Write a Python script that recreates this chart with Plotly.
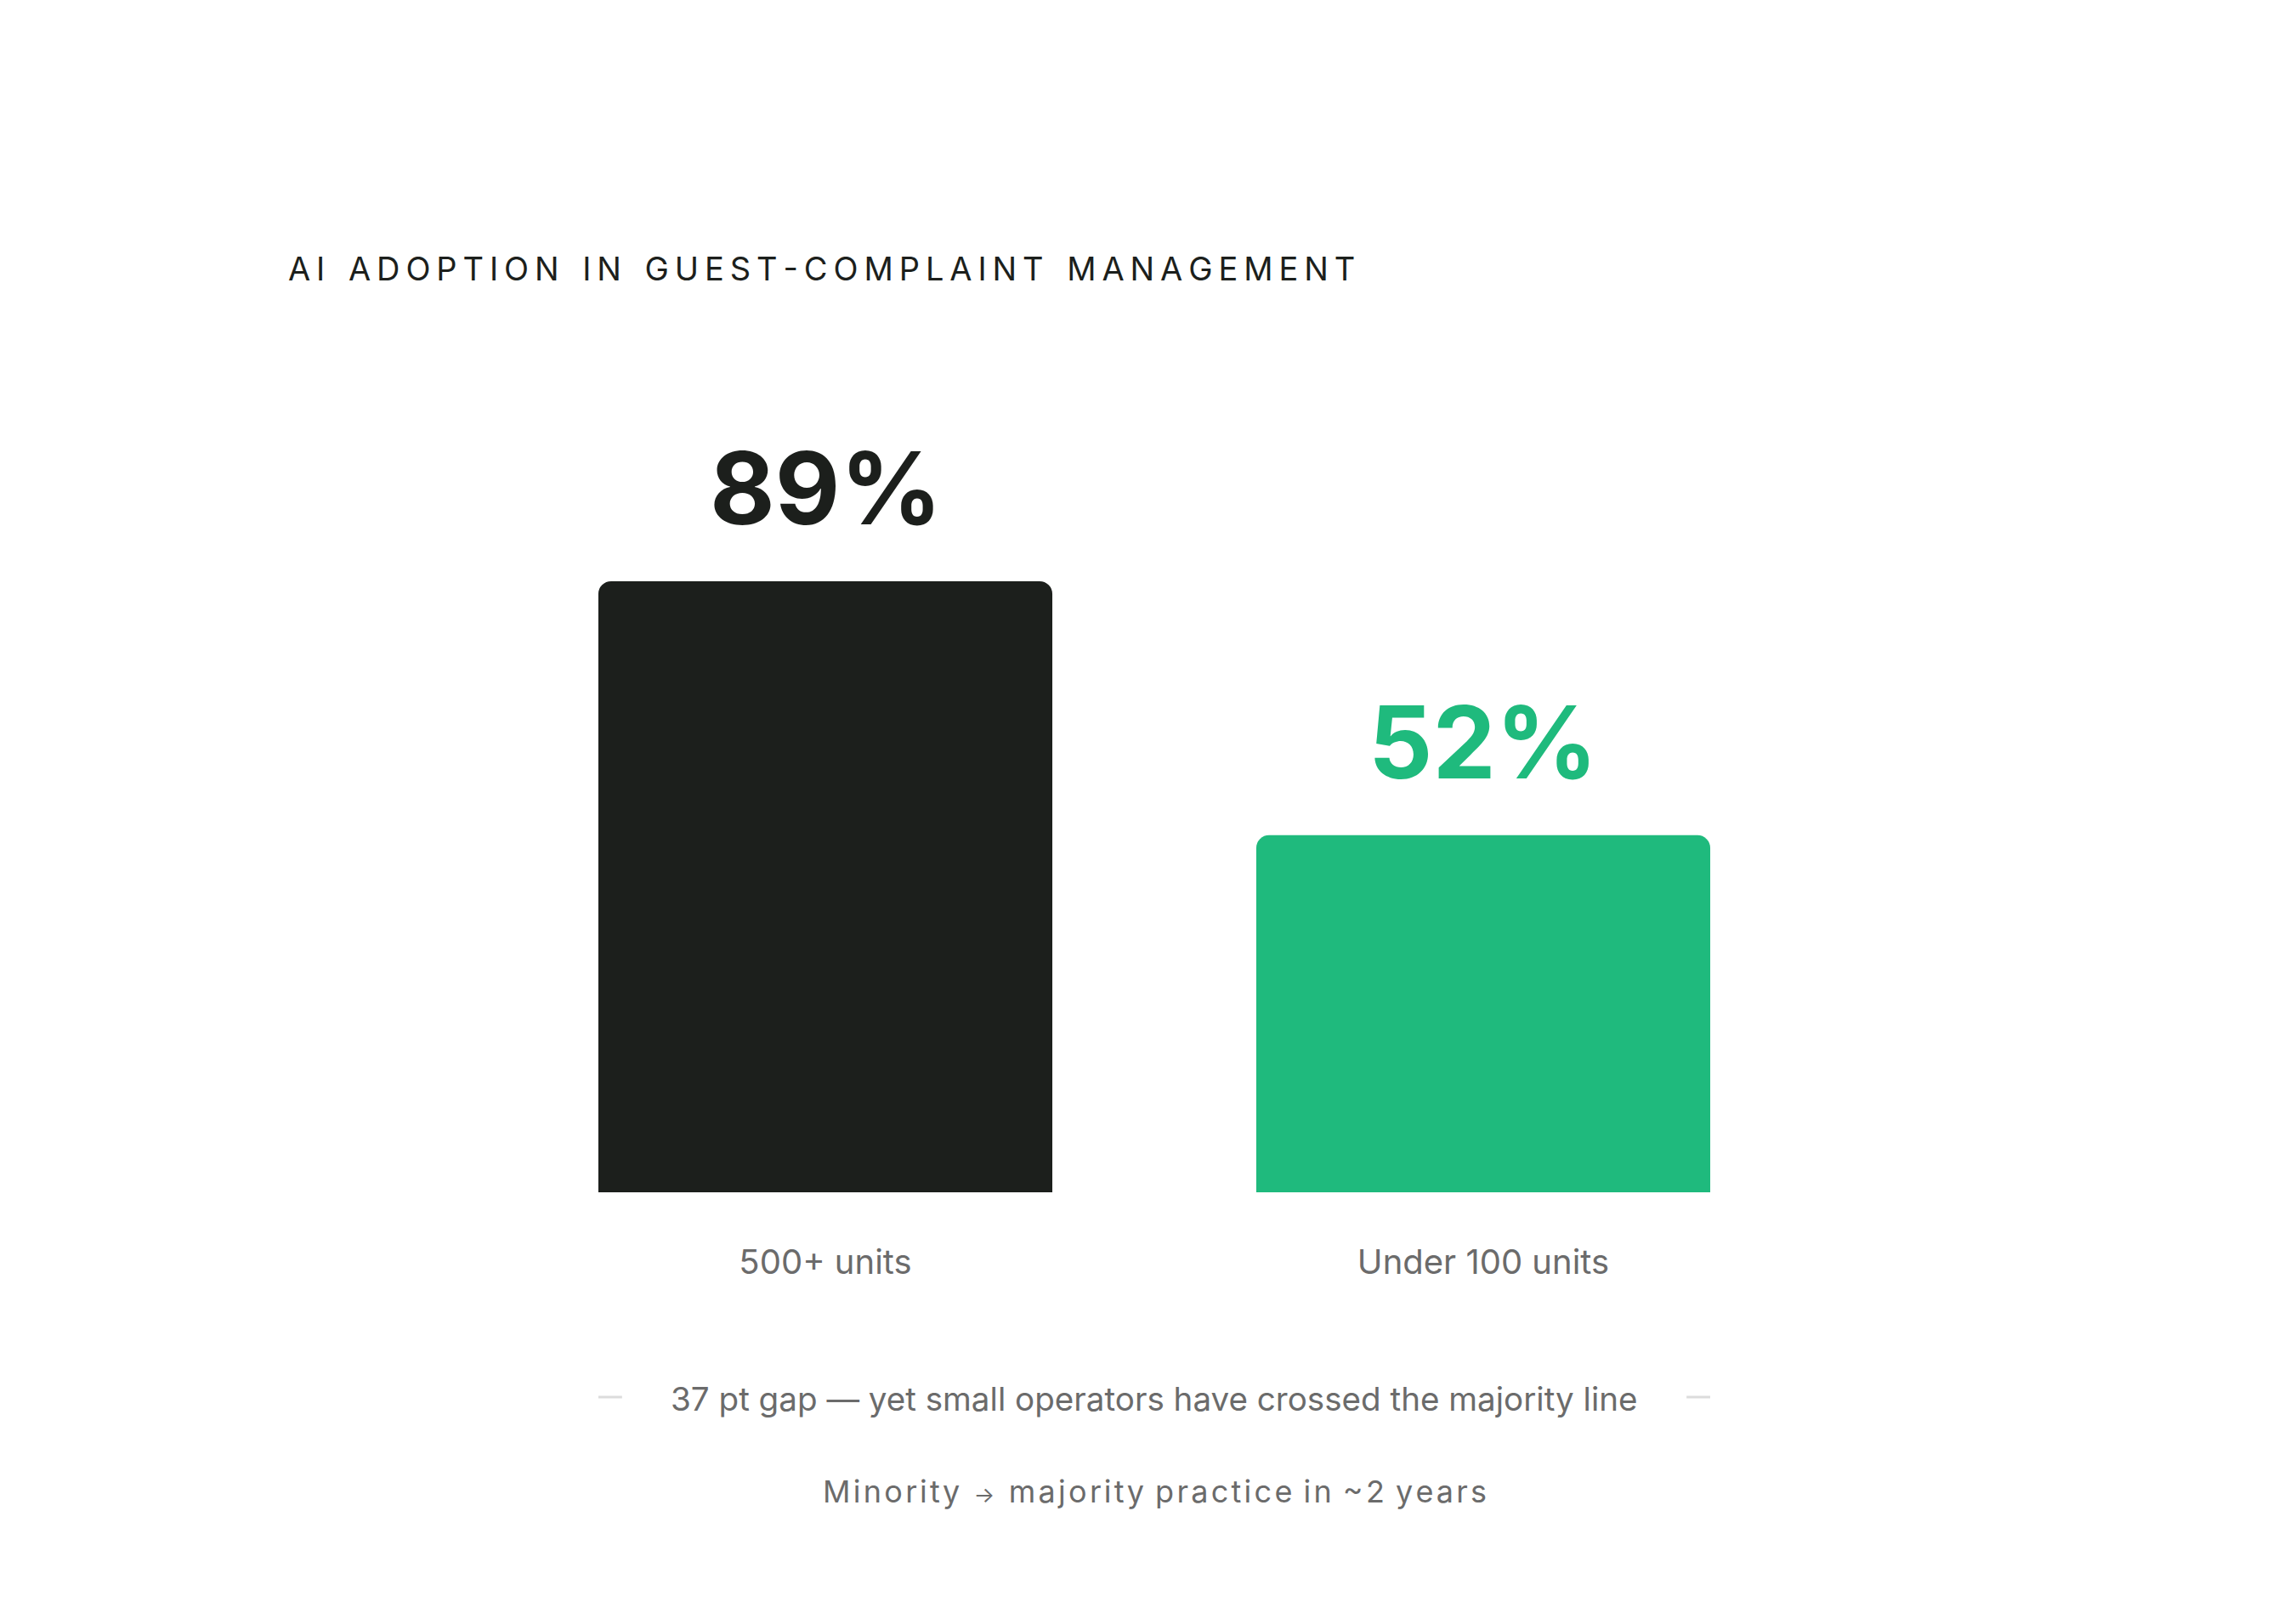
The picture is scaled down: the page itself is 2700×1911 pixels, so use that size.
import plotly.graph_objects as go

categories = ["500+ units", "Under 100 units"]
adoption = [89, 52]
value_labels = ["89%", "52%"]
bar_colors = ["#1c1f1c", "#1fba7d"]

title_text = "AI ADOPTION IN GUEST-COMPLAINT MANAGEMENT"
gap_note = "37 pt gap \u2014 yet small operators have crossed the majority line"
trend_from, trend_to = "Minority", "majority practice in ~2 years"


def spaced(s, gap="\u2009", word=4):
    # fake letter-spacing: thin spaces between letters, wider between words
    words = s.split(" ")
    return (gap * word).join(gap.join(w) for w in words)


H = 1911
y_base, y_top = 1395, 587
dom_h = y_base - y_top

hs = "\u200a"
trend_note = (spaced(trend_from, hs, 4) + hs * 5
              + "<span style='font-size:26px'>\u2192</span>"
              + hs * 5 + spaced(trend_to, hs, 4))

fig = go.Figure()
fig.add_trace(go.Bar(
    x=categories,
    y=adoption,
    width=0.69,
    marker=dict(color=bar_colors, cornerradius=15, line=dict(width=0)),
    hoverinfo="skip",
))

for cat, val, lab, col in zip(categories, adoption, value_labels, bar_colors):
    fig.add_annotation(
        x=cat, y=val, text="<b>" + lab + "</b>", showarrow=False,
        xref="x", yref="y", yanchor="bottom", yshift=37,
        font=dict(family="Inter", size=118, color=col),
    )

fig.add_annotation(
    x=0.5, y=-(1638 - y_base) / dom_h, xref="paper", yref="paper", text=gap_note,
    showarrow=False, yanchor="middle",
    font=dict(family="Inter", size=38.6, color="#6b6b6b"),
)
fig.add_annotation(
    x=0.5, y=-(1747 - y_base) / dom_h, xref="paper", yref="paper", text=trend_note,
    showarrow=False, yanchor="middle",
    font=dict(family="Inter", size=36, color="#6b6b6b"),
)

# small dashes flanking the gap note
dash_y = -(1636 - y_base) / dom_h
for x0, x1 in [(-0.345, -0.309), (1.309, 1.345)]:
    fig.add_shape(type="line", xref="x", yref="paper", x0=x0, x1=x1,
                  y0=dash_y, y1=dash_y, line=dict(color="#dcdcdc", width=3))

fig.update_layout(
    width=2700, height=H,
    paper_bgcolor="white", plot_bgcolor="white",
    margin=dict(l=576, r=576, t=y_top, b=H - y_base),
    showlegend=False,
    title=dict(
        text=spaced(title_text), xref="container", yref="container",
        x=331 / 2700, y=1 - 309 / H, xanchor="left", yanchor="middle",
        font=dict(family="Inter", size=38, color="#1c1f1c"),
    ),
)
fig.update_xaxes(range=[-0.5, 1.5], showgrid=False, zeroline=False, showline=False,
                 ticks="", ticklabelstandoff=55,
                 tickfont=dict(family="Inter", size=40, color="#6b6b6b"))
fig.update_yaxes(range=[0, 100], visible=False)

fig.write_html("out.html")
